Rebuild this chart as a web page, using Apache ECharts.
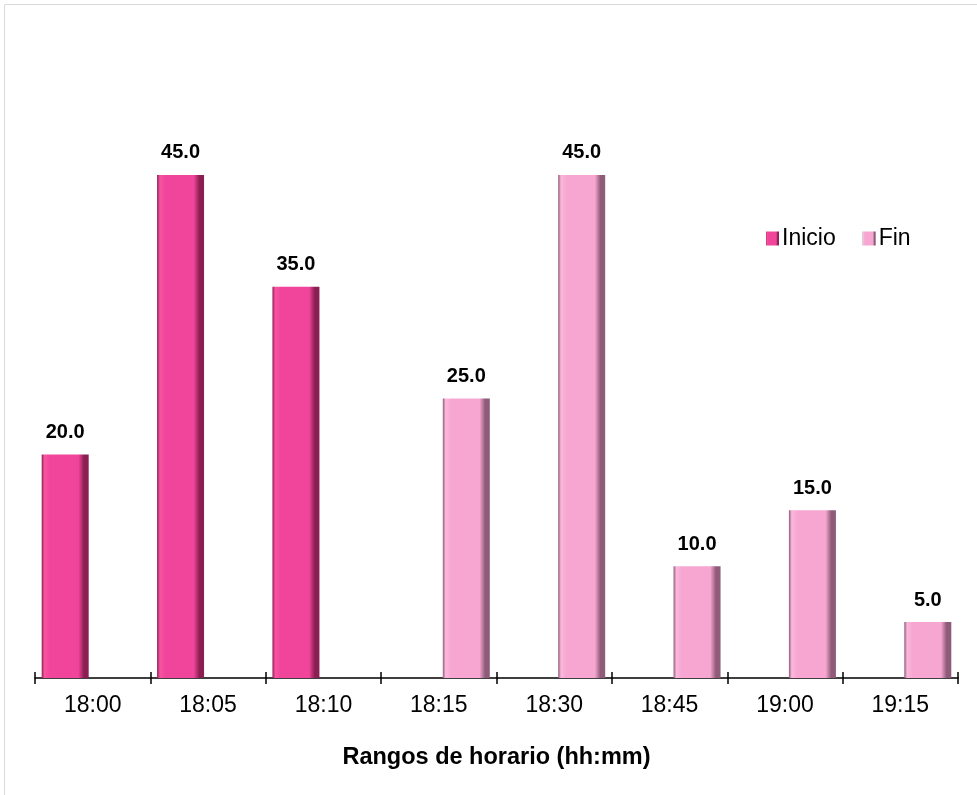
<!DOCTYPE html>
<html>
<head>
<meta charset="utf-8">
<script src="https://cdn.jsdelivr.net/npm/echarts@6/dist/echarts.min.js"></script>
<style>
  html, body { margin: 0; padding: 0; background: #fff; }
  #chart { width: 977px; height: 795px; }
</style>
</head>
<body>
<div id="chart"></div>
<script>
const categories = ['18:00', '18:05', '18:10', '18:15', '18:30', '18:45', '19:00', '19:15'];
const inicio = [20, 45, 35, '-', '-', '-', '-', '-'];
const fin = ['-', '-', '-', 25, 45, 10, 15, 5];

const chart = echarts.init(document.getElementById('chart'));

// bevel-ish look: dark left edge, base colour, dark right edge
function bevel(light, base, dark) {
  return new echarts.graphic.LinearGradient(0, 0, 1, 0, [
    { offset: 0, color: dark },
    { offset: 0.06, color: light },
    { offset: 0.18, color: base },
    { offset: 0.78, color: base },
    { offset: 0.9, color: dark },
    { offset: 1, color: dark }
  ]);
}

const valueLabel = {
  show: true,
  position: 'top',
  distance: 12,
  fontFamily: 'Liberation Sans',
  fontWeight: 'bold',
  fontSize: 20,
  color: '#000',
  formatter: p => Number(p.value).toFixed(1)
};

chart.setOption({
  animation: false,
  textStyle: { fontFamily: 'Liberation Sans' },
  graphic: [{
    type: 'rect',
    shape: { x: 4.5, y: 4.5, width: 1200, height: 1200 },
    style: { fill: 'none', stroke: '#d9d9d9', lineWidth: 1 },
    silent: true
  }],
  legend: {
    left: 761,
    top: 222,
    itemWidth: 13,
    itemHeight: 14,
    itemGap: 27,
    icon: 'rect',
    textStyle: { fontSize: 23, color: '#000', padding: [0, 0, 0, -2] },
    data: ['Inicio', 'Fin']
  },
  grid: { left: 35, right: 19, top: 119, bottom: 117 },
  xAxis: [{
    type: 'category',
    data: categories,
    position: 'bottom',
    axisLine: { lineStyle: { color: '#000', width: 1.5 } },
    axisTick: { show: true, length: 6, lineStyle: { color: '#000', width: 1.5 } },
    axisLabel: { fontSize: 23, color: '#000', margin: 16 },
    name: 'Rangos de horario (hh:mm)',
    nameLocation: 'middle',
    nameGap: 68,
    nameTextStyle: { fontSize: 23.5, fontWeight: 'bold', color: '#000' }
  }, {
    type: 'category',
    data: categories,
    position: 'bottom',
    axisLine: { show: false },
    axisTick: { show: true, inside: true, length: 6, lineStyle: { color: '#000', width: 1.5 } },
    axisLabel: { show: false }
  }],
  yAxis: {
    type: 'value',
    min: 0,
    max: 50,
    show: false,
    splitLine: { show: false }
  },
  series: [{
    name: 'Inicio',
    type: 'bar',
    data: inicio,
    barWidth: 47,
    barGap: '17%',
    itemStyle: { color: bevel('#f7559f', '#f0459a', '#8c1f52') },
    label: valueLabel
  }, {
    name: 'Fin',
    type: 'bar',
    data: fin,
    barWidth: 47,
    itemStyle: { color: bevel('#fbb8dc', '#f6a6d1', '#8f5b78') },
    label: valueLabel
  }]
});
</script>
</body>
</html>
